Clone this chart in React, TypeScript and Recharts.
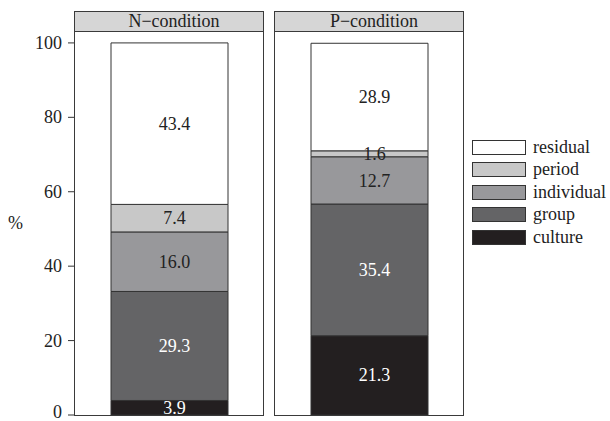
import React from 'react';
import { BarChart, Bar, XAxis, YAxis, LabelList, Legend } from 'recharts';

const conditions = ['N\u2212condition', 'P\u2212condition'];
const seriesNames = ['culture', 'group', 'individual', 'period', 'residual'];
const culture = [3.9, 21.3];
const group = [29.3, 35.4];
const individual = [16.0, 12.7];
const period = [7.4, 1.6];
const residual = [43.4, 28.9];
const yTicks = [0, 20, 40, 60, 80, 100];

const seriesValues: Record<string, number[]> = { culture, group, individual, period, residual };
const colors: Record<string, string> = {
  culture: '#231f20',
  group: '#646466',
  individual: '#98989b',
  period: '#c8c8c8',
  residual: '#ffffff',
};
const labelColors: Record<string, string> = {
  culture: '#ffffff',
  group: '#ffffff',
  individual: '#222222',
  period: '#222222',
  residual: '#222222',
};

const FONT = '"Liberation Serif", "Times New Roman", serif';
const FS = 18;
const DOMAIN: [number, number] = [0, 103.2];

const panelData = (i: number) => {
  const row: Record<string, any> = { cond: conditions[i] };
  seriesNames.forEach((s) => (row[s] = seriesValues[s][i]));
  return [row];
};

const makeLabel = (color: string) => (props: any) => {
  const { x, y, width, height, value } = props;
  return (
    <text
      x={Number(x) + Number(width) / 2 + 5}
      y={Number(y) + Number(height) / 2}
      dy="0.34em"
      textAnchor="middle"
      fill={color}
      style={{ fontFamily: FONT, fontSize: FS }}
    >
      {Number(value).toFixed(1)}
    </text>
  );
};

const renderBars = () =>
  seriesNames.map((s) => (
    <Bar
      key={s}
      dataKey={s}
      name={s}
      stackId="a"
      fill={colors[s]}
      stroke="#333333"
      strokeWidth={1}
      barSize={117}
      isAnimationActive={false}
    >
      <LabelList dataKey={s} content={makeLabel(labelColors[s])} />
    </Bar>
  ));

const YTick = (props: any) => {
  const { x, y, payload } = props;
  const shift = payload.value === 0 ? -3 : 0;
  return (
    <text
      x={x}
      y={y + shift}
      dy="0.34em"
      textAnchor="end"
      fill="#222"
      style={{ fontFamily: FONT, fontSize: FS }}
    >
      {payload.value}
    </text>
  );
};

const LegendContent = (props: any) => {
  const items = (props.payload || []).slice().reverse();
  return (
    <div style={{ fontFamily: FONT, fontSize: FS, color: '#222' }}>
      {items.map((it: any) => (
        <div key={it.value} style={{ display: 'flex', alignItems: 'center', height: 22.5 }}>
          <div
            style={{
              width: 54,
              height: 15,
              boxSizing: 'border-box',
              border: '1px solid #333',
              background: it.color,
              marginRight: 7,
              flexShrink: 0,
            }}
          />
          <span style={{ lineHeight: '15px', whiteSpace: 'nowrap' }}>{it.value}</span>
        </div>
      ))}
    </div>
  );
};

const Panel = ({ left, title }: { left: number; title: string }) => (
  <div
    style={{
      position: 'absolute',
      left,
      top: 11,
      width: 190,
      height: 405,
      boxSizing: 'border-box',
      border: '1px solid #3a3a3a',
      pointerEvents: 'none',
    }}
  >
    <div
      style={{
        height: 20,
        boxSizing: 'border-box',
        borderBottom: '1px solid #3a3a3a',
        background: '#d6d6d6',
        fontFamily: FONT,
        fontSize: FS,
        color: '#222',
        textAlign: 'center',
        lineHeight: '19px',
        paddingLeft: 10,
      }}
    >
      {title}
    </div>
  </div>
);

export default function App() {
  return (
    <div style={{ position: 'absolute', left: 0, top: 0, width: 610, height: 421, background: '#fff' }}>
      <div style={{ position: 'absolute', left: 0, top: 0 }}>
        <BarChart width={264} height={421} data={panelData(0)} margin={{ top: 31, right: 0, bottom: 6, left: 0 }}>
          <XAxis dataKey="cond" hide />
          <YAxis
            width={74}
            domain={DOMAIN}
            ticks={yTicks}
            interval={0}
            axisLine={false}
            tickLine={{ stroke: '#333' }}
            tickSize={6}
            tickMargin={6}
            tick={<YTick />}
            label={{ value: '%', position: 'insideLeft', offset: 8, fill: '#222', fontSize: FS, fontFamily: FONT }}
          />
          {renderBars()}
        </BarChart>
      </div>
      <div style={{ position: 'absolute', left: 274, top: 0 }}>
        <BarChart width={336} height={421} data={panelData(1)} margin={{ top: 31, right: 146, bottom: 6, left: 0 }}>
          <XAxis dataKey="cond" hide />
          <YAxis hide domain={DOMAIN} ticks={yTicks} />
          {renderBars()}
          <Legend
            layout="vertical"
            align="center"
            verticalAlign="middle"
            content={<LegendContent />}
            wrapperStyle={{ left: 198, top: 136, width: 140, height: 115 }}
          />
        </BarChart>
      </div>
      <Panel left={74} title={conditions[0]} />
      <Panel left={274} title={conditions[1]} />
    </div>
  );
}
